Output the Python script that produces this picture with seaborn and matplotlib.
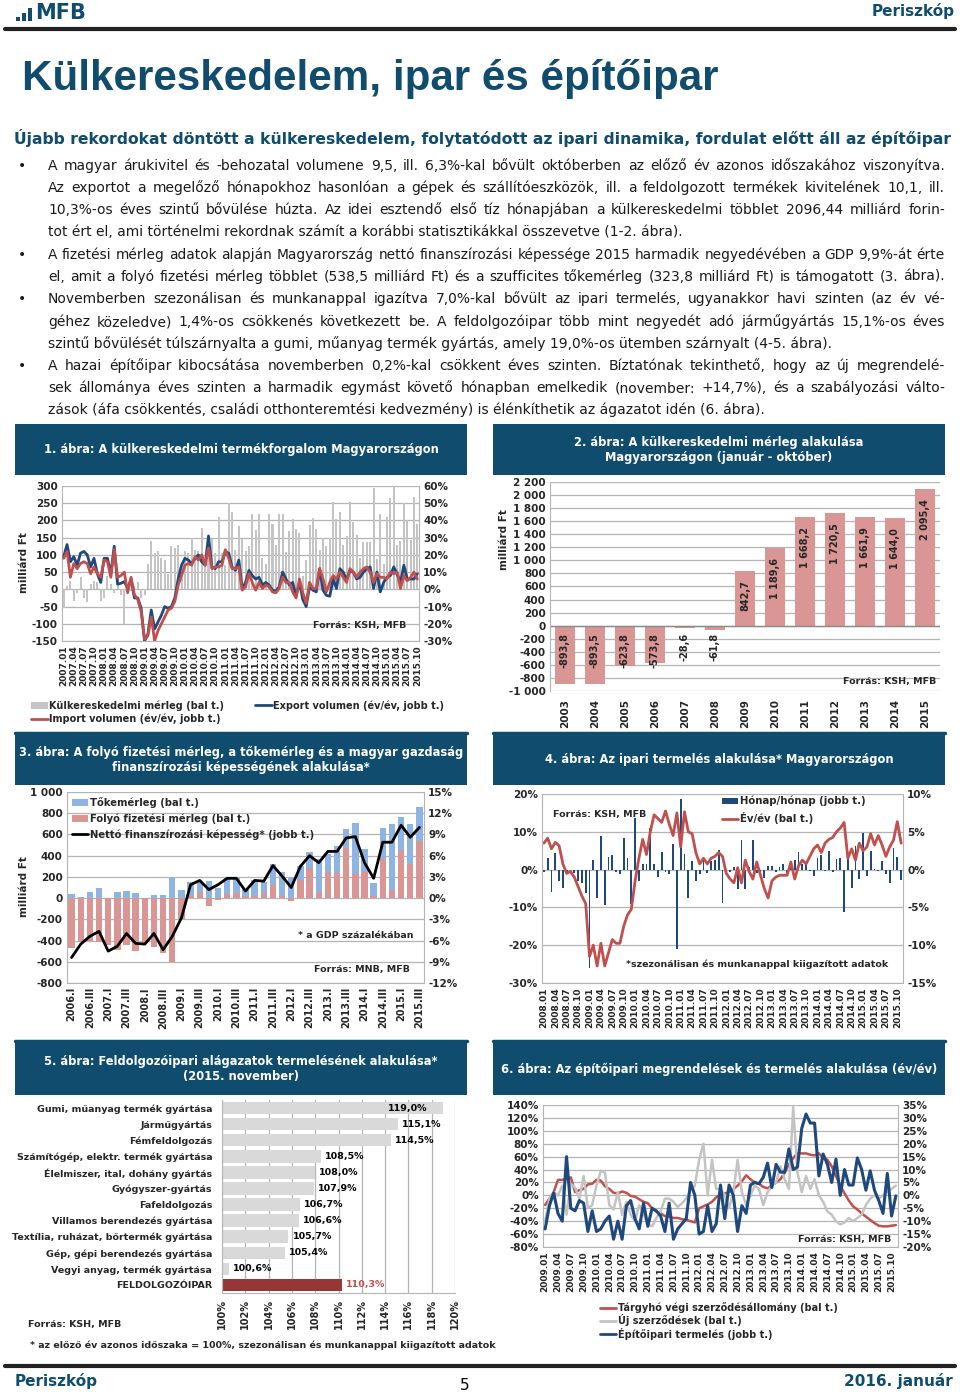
import numpy as np
import pandas as pd
import matplotlib
matplotlib.use('Agg')
import matplotlib.pyplot as plt
import seaborn as sns
from matplotlib.patches import Rectangle, Patch
from matplotlib.lines import Line2D
from matplotlib.ticker import FuncFormatter

# ---------------- data ----------------
# 1. ábra - havi adatok 2007.01-2015.10
months1 = pd.date_range('2007-01-01', periods=106, freq='MS').strftime('%Y.%m').tolist()
trade_balance = [-55, 10, 25, -35, -10, 35, -25, -38, 15, 25,
                 20, -33, -25, 40, 15, -10, 30, -15, -100, 10,
                 -5, 10, 22, -25, -15,
                 75, 140, 105, 110, 90, 85, 45, 125, 120, 128,
                 50, 112, 105, 148, 115, 110, 178, 85, 140, 145,
                 105, 210, 105, 70, 250, 225, 115, 185, 145, 110,
                 125, 218, 172, 220, 90, 75, 220, 190, 130, 220,
                 220, 108, 168, 205, 175, 165, 40, 85, 188, 208,
                 175, 115, 148, 125, 148, 255, 205, 225, 130, 155,
                 255, 195, 158, 90, 138, 137, 137, 293, 88, 218,
                 75, 210, 265, 300, 130, 140, 250, 200, 142, 268, 190]
export_yoy = [19, 26, 16, 19, 14, 21, 22, 20, 13, 18,
              9, 4, 18, 18, 9, 25, 3, 3.5, 4.5, 0.5,
              6, -5, -5, -11, -30, -26, -12, -23, -19, -15,
              -10, -11, -10, -5, 6, 14, 18, 17, 15, 18,
              20, 16, 14, 31, 13, 12, 16, 16, 22, 21,
              13, 11, 17, 0.5, 4, 11, 8, 6, 7, 2.5,
              4, 2.5, -0.5, -1, 1.5, 10, 6, 2.5, 4, -4,
              4, -6, -10, 1.5, -0.5, -1.5, 12, -0.5, -3.5, -4,
              6, 0.5, 12, 10, 5.5, 11, 10, 6, 7, 10,
              12, 13, 0.5, 10, -1.5, 4, 7, 8, 13, 9,
              4, 14, 6, 6, 6, 9]
import_yoy = [18, 22, 7, 15, 12, 15, 16, 15, 9, 13,
              9, 7, 17, 16, 7, 23, 7, 8, 10, -2,
              7, -3, -6, -13, -29, -27, -16, -30, -24, -20,
              -16, -12, -11, -7, 2.5, 8, 14, 15, 14, 19,
              17, 20, 14, 24, 12, 13, 13, 14, 23, 18,
              12, 12, 13, -0.5, 1.5, 9, 4, -0.5, 4, 0.5,
              2.5, 1.5, -1.5, -2, 0.5, 7, 4, 4, -1.5, -5,
              6, -2, -8, 4, 0.5, 0.5, 12, 6, -1.5, 4,
              8, 6, 10, 7, 4, 12, 10, 7, 10, 12,
              13, 10, 4, 9, 7, 7, 6, 10, 9, 10,
              0.5, 8, 5, 7, 10, 6]

# 2. ábra - január-október összesen
years2 = ['2003', '2004', '2005', '2006', '2007', '2008', '2009',
          '2010', '2011', '2012', '2013', '2014', '2015']
balance2 = [-893.8, -893.5, -623.8, -573.8, -28.6, -61.8, 842.7,
            1189.6, 1668.2, 1720.5, 1661.9, 1644.0, 2095.4]

# 3. ábra - negyedéves adatok 2006.I-2015.III
quarters3 = [f'{y}.{q}' for y in range(2006, 2016) for q in ['I', 'II', 'III', 'IV']][:39]
current_account = [-470, -410, -400, -410, -440, -490, -440, -500, -420, -460,
                   -520, -600, -200, 20, 55, -75, -20, 40, 50, 20,
                   20, 50, 120, 20, -25, 175, 285, 60, 250, 240,
                   475, 225, 245, 20, 365, 75, 455, 320, 538.5]
capital_account = [38, 10, 57, 94, 5, 55, 68, 48, 5, 25,
                   30, 200, 80, 130, 95, 160, 100, 150, 140, 70,
                   150, 100, 200, 225, 190, 130, 150, 310, 170, 250,
                   180, 485, 215, 125, 295, 620, 310, 380, 323.8]
net_lending = [-8.4, -6.5, -5.4, -4.7, -7.5, -6.8, -5.0, -6.4, -6.5, -5.0,
               -7.3, -5.4, -2.8, 1.9, 2.5, 1.2, 1.9, 2.8, 2.8, 1.0,
               2.5, 2.4, 4.6, 3.1, 1.5, 4.5, 6.0, 5.0, 6.6, 6.6,
               8.5, 8.7, 5.0, 2.8, 7.9, 7.9, 10.3, 8.6, 10.0]

# 4. ábra - havi adatok 2008.01-2015.11
months4 = pd.date_range('2008-01-01', periods=95, freq='MS').strftime('%Y.%m').tolist()
ip_mom = [-0.3, 1.5, -3, 2.2, -1.5, -2.4, -0.5, -0.3, -0.5, -1.5,
          -1.8, -3.1, -13, 1.3, -3.7, 4.4, -4.7, 1.7, 1.9, -0.3,
          -0.6, 4.2, 1.5, -4.6, 6.8, -1.5, 0.8, 0.8, 5.5, 0.8,
          -1, 2.3, -0.3, -0.6, 3.4, -10.5, 9.4, 2, -3.8, 1.1,
          -1.5, -0.6, 1.2, -0.4, 1.2, 1.3, 2.6, -4.4, -0.5, -0.3,
          0.3, -2.6, 3.9, -2.6, 0.3, 3.9, -0.5, -1, -1.1, 0.5,
          0.5, -0.3, 0.3, 0.8, -0.5, 0.8, 1.3, 2.3, 0.8, 0.7,
          -0.2, -0.9, 1.5, 1.9, -0.2, 2.5, -0.3, 1.4, 1.6, -5.6,
          1.7, -2.4, 3.1, -1.2, 4.8, -0.9, 2.5, 0.1, -0.2, 1.1,
          -0.6, -1.8, 2.9, 1.7, -1.4]
ip_yoy = [7, 8.3, 5.5, 7.2, 6.3, 1.5, -1, -0.5, -2, -4.5,
          -7, -9, -23, -20, -25.5, -19.5, -25.5, -22, -18.5, -19.5,
          -19.5, -15, -12, -10.5, -3, 3, 8, 4, 10, 14.5,
          13.5, 12.5, 15.5, 12, 9, 15, 6, 15.3, 10, 9.5,
          4.5, 1.5, 3, 1.5, 3, 3.5, 4.5, 3.5, -1, -2.5,
          -3.5, 0.5, -3.5, 2.5, -0.5, -2.5, 2, -1.5, -5, -7.5,
          -3, -2, -1.5, -1.5, -1.5, 2, -2.5, 1, 2.5, 1.5,
          3.5, 5.5, 6.5, 4.5, 7, 8, 8.5, 10, 11, 12.5,
          3, 5.5, 2.5, 7, 5, 6, 9.5, 6.5, 9, 6.5,
          3.5, 6, 7.8, 12.7, 7.0]

# 5. ábra - 2015. november, előző év azonos időszaka = 100%
sectors5 = ['Gumi, műanyag termék gyártása', 'Járműgyártás', 'Fémfeldolgozás',
            'Számítógép, elektr. termék gyártása', 'Élelmiszer, ital, dohány gyártás',
            'Gyógyszer-gyártás', 'Fafeldolgozás', 'Villamos berendezés gyártása',
            'Textília, ruházat, bőrtermék gyártása', 'Gép, gépi berendezés gyártása',
            'Vegyi anyag, termék gyártása', 'FELDOLGOZÓIPAR']
index5 = [119.0, 115.1, 114.5, 108.5, 108.0, 107.9, 106.7, 106.6, 105.7, 105.4, 100.6, 110.3]

# 6. ábra - havi adatok 2009.01-2015.11
months6 = pd.date_range('2009-01-01', periods=83, freq='MS').strftime('%Y.%m').tolist()
contracts_stock = [-15, -5, 5, 24, 24, 25, 28, 5, 8, 10,
                   17, 18, 24, 23, 14, 10, 4, 3, 6, 4,
                   -1, -2, -6, -10, -12, -20, -25, -28, -32, -33,
                   -35, -35, -37, -38, -40, -42, -20, -17, -14, -10,
                   -3, 2, 3, 5, 10, 15, 22, 31, 25, 20,
                   18, 13, 11, 15, 20, 25, 35, 48, 58, 65,
                   65, 65, 63, 62, 65, 58, 55, 45, 30, 15,
                   3, -8, -17, -22, -28, -33, -38, -43, -47, -48,
                   -48, -47, -46]
contracts_new = [-40, -5, 5, 0, 15, -30, 18, 12, -5, 30,
                 -20, -15, 15, 38, 35, -15, -22, 5, -30, -10,
                 -30, -40, -15, -28, -45, -48, -35, -25, -5, -5,
                 -10, -18, -12, -5, 8, 15, 55, 80, 0, 55,
                 10, 10, 0, -20, 5, 55, 5, -15, 0, 15,
                 10, -15, 5, 15, 20, 45, 25, 10, 137, 35,
                 5, 30, 10, 25, 0, -10, -25, -30, -40, -45,
                 -42, -35, -40, -35, -30, -15, -5, 0, -5, 0,
                 5, 10, 15]
construction_output = [-13, -4, 1, -7, -10, 15, -5, -6, -2, -3,
                       -14, -6, -14, -13, -10, -8, -17, -10, -17, -4,
                       -2, -9, -13, -3, -12, -5, -6, -8, -14, -3,
                       -17, -13, -11, -9, 5, 0, -15, -14, -4, -14,
                       -11, 4, -9, 4, 0, -14, -4, -7, 4, 5,
                       4.5, 7, 12.5, 3, 12, 9, 9, 18, 10, 11,
                       26, 31.5, 28, 28, 7.5, 16, 12, 5, 14, 0,
                       10, 4, 4, 14.5, 10, 2, 9.5, 2, -2, -7,
                       8.5, -8, -0.2]

# ---------------- style ----------------
W, H = 960, 1394
TEAL = '#0f4c6d'
GRID = '#b4b4b4'
NAVY = '#1f497d'
RED = '#c0504d'
PINK = '#d99694'
BLUE = '#8eb4e3'
BARGRAY = '#c4c4c4'
DARKRED = '#953735'

sns.set_style('white')
plt.rcParams['font.family'] = ['DejaVu Sans']
plt.rcParams['font.weight'] = 'bold'
plt.rcParams['axes.labelweight'] = 'bold'
plt.rcParams['axes.unicode_minus'] = False
plt.rcParams['patch.force_edgecolor'] = False

pct = FuncFormatter(lambda v, p: f'{v:.0f}%')
thou = FuncFormatter(lambda v, p: f'{v:,.0f}'.replace(',', ' '))

fig = plt.figure(figsize=(9.6, 13.94), dpi=100)
renderer = fig.canvas.get_renderer()


def rect(x0, y0, x1, y1):
    return [x0 / W, 1 - y1 / H, (x1 - x0) / W, (y1 - y0) / H]


def ftext(x, y, s, **kw):
    return fig.text(x / W, 1 - y / H, s, **kw)


def hline(x0, x1, y, lw, color):
    fig.add_artist(Line2D([x0 / W, x1 / W], [1 - y / H, 1 - y / H],
                          transform=fig.transFigure, lw=lw, color=color))


def box(x0, y0, x1, y1, title):
    fig.add_artist(Rectangle((x0 / W, 1 - y1 / H), (x1 - x0) / W, (y1 - y0) / H,
                             transform=fig.transFigure, facecolor=TEAL, edgecolor='none'))
    ftext((x0 + x1) / 2, (y0 + y1) / 2, title, ha='center', va='center',
          color='white', fontsize=8.3, fontweight='bold', linespacing=1.2)


def clean(ax, sides=('left', 'bottom')):
    for s in ax.spines:
        ax.spines[s].set_visible(s in sides)
        ax.spines[s].set_color(GRID)
    ax.set_xlabel('')
    ax.set_ylabel('')
    ax.tick_params(axis='both', length=0, pad=3, labelsize=7.5)


def px_width(t):
    return t.get_window_extent(renderer).width


def fit(t, target):
    t.set_fontsize(t.get_fontsize() * target / px_width(t))


# ---------------- page header ----------------
for i, h in enumerate([4, 8, 13]):
    fig.add_artist(Rectangle(((16 + 6 * i) / W, 1 - 21 / H), 4 / W, h / H,
                             transform=fig.transFigure, facecolor=TEAL, edgecolor='none'))
ftext(35, 13, 'MFB', fontsize=15, color=TEAL, va='center', fontweight='bold')
ftext(955, 11, 'Periszkóp', fontsize=11, color=TEAL, ha='right', va='center', fontweight='bold')
hline(5, 955, 29, 3, '#222222')

t = ftext(22, 79, 'Külkereskedelem, ipar és építőipar', family=['Liberation Sans', 'DejaVu Sans'],
          fontsize=30, fontweight='bold', color=TEAL, va='center')
fit(t, 696)
t = ftext(14, 138, 'Újabb rekordokat döntött a külkereskedelem, folytatódott az ipari dinamika, '
          'fordulat előtt áll az építőipar', fontsize=11, fontweight='bold', color=TEAL, va='center')
fit(t, 931)

body = [
    (166, True, True, 'A magyar árukivitel és -behozatal volumene 9,5, ill. 6,3%-kal bővült októberben az előző év azonos időszakához viszonyítva.'),
    (188, False, True, 'Az exportot a megelőző hónapokhoz hasonlóan a gépek és szállítóeszközök, ill. a feldolgozott termékek kivitelének 10,1, ill.'),
    (210, False, True, '10,3%-os éves szintű bővülése húzta. Az idei esztendő első tíz hónapjában a külkereskedelmi többlet 2096,44 milliárd forin-'),
    (232, False, False, 'tot ért el, ami történelmi rekordnak számít a korábbi statisztikákkal összevetve (1-2. ábra).'),
    (255, True, True, 'A fizetési mérleg adatok alapján Magyarország nettó finanszírozási képessége 2015 harmadik negyedévében a GDP 9,9%-át érte'),
    (277, False, True, 'el, amit a folyó fizetési mérleg többlet (538,5 milliárd Ft) és a szufficites tőkemérleg (323,8 milliárd Ft) is támogatott (3. ábra).'),
    (299, True, True, 'Novemberben szezonálisan és munkanappal igazítva 7,0%-kal bővült az ipari termelés, ugyanakkor havi szinten (az év vé-'),
    (322, False, True, 'géhez közeledve) 1,4%-os csökkenés következett be. A feldolgozóipar több mint negyedét adó járműgyártás 15,1%-os éves'),
    (344, False, False, 'szintű bővülését túlszárnyalta a gumi, műanyag termék gyártás, amely 19,0%-os ütemben szárnyalt (4-5. ábra).'),
    (366, True, True, 'A hazai építőipar kibocsátása novemberben 0,2%-kal csökkent éves szinten. Bíztatónak tekinthető, hogy az új megrendelé-'),
    (388, False, True, 'sek állománya éves szinten a harmadik egymást követő hónapban emelkedik (november: +14,7%), és a szabályozási válto-'),
    (410, False, False, 'zások (áfa csökkentés, családi otthonteremtési kedvezmény) is élénkíthetik az ágazatot idén (6. ábra).'),
]
BODY_SIZE = 10
for y, bullet, justify, line in body:
    kw = dict(fontsize=BODY_SIZE, fontweight='normal', color='#1a1a1a', va='center')
    if bullet:
        ftext(18, y, '•', **kw)
    t = ftext(48, y, line, **kw)
    w = px_width(t)
    size = BODY_SIZE if w <= 897 else BODY_SIZE * 897 / w
    t.set_fontsize(size)
    if justify:
        t.remove()
        kw['fontsize'] = size
        words = [ftext(48, y, wd, **kw) for wd in line.split(' ')]
        widths = [px_width(o) for o in words]
        gap = (897 - sum(widths)) / (len(words) - 1)
        x = 48
        for o, wd in zip(words, widths):
            o.set_x(x / W)
            x += wd + gap

# ---------------- 1. ábra ----------------
box(15, 424, 467, 475, '1. ábra: A külkereskedelmi termékforgalom Magyarországon')
ax1 = fig.add_axes(rect(62, 486, 419, 641))
x1 = np.arange(len(months1))
sns.barplot(x=x1, y=trade_balance, color=BARGRAY, saturation=1, width=0.6, linewidth=0,
            errorbar=None, ax=ax1)
ax1b = ax1.twinx()
sns.lineplot(x=x1, y=export_yoy, color=NAVY, lw=2, errorbar=None, ax=ax1b)
sns.lineplot(x=x1, y=import_yoy, color=RED, lw=2, errorbar=None, ax=ax1b)
clean(ax1)
clean(ax1b, ('right',))
ax1.set_ylim(-150, 300)
ax1.set_yticks(np.arange(-150, 301, 50))
ax1b.set_ylim(-30, 60)
ax1b.set_yticks(np.arange(-30, 61, 10))
ax1b.yaxis.set_major_formatter(pct)
ax1.yaxis.grid(True, color=GRID, lw=0.9)
ax1.set_axisbelow(True)
ax1.set_xticks(x1[::3])
ax1.set_xticklabels(months1[::3], rotation=90, fontsize=6.5)
ax1.set_xlim(-0.5, len(x1) - 0.5)
ax1.text(0.965, 0.1, 'Forrás: KSH, MFB', transform=ax1.transAxes, ha='right', va='center', fontsize=6.8)
ftext(24, 563, 'milliárd Ft', rotation=90, ha='center', va='center', fontsize=7.5)
fig.legend([Patch(facecolor=BARGRAY), Line2D([], [], color=RED, lw=2), Line2D([], [], color=NAVY, lw=2)],
           ['Külkereskedelmi mérleg (bal t.)', 'Import volumen (év/év, jobb t.)', 'Export volumen (év/év, jobb t.)'],
           loc='upper left', bbox_to_anchor=(31 / W, 1 - 700 / H), ncol=2, frameon=False, fontsize=7,
           handlelength=1.7, handletextpad=0.15, columnspacing=3.2, labelspacing=0.3,
           borderpad=0, borderaxespad=0)
hline(15, 467, 733, 2.5, TEAL)

# ---------------- 2. ábra ----------------
box(493, 424, 945, 475, '2. ábra: A külkereskedelmi mérleg alakulása\nMagyarországon (január - október)')
ax2 = fig.add_axes(rect(550, 482, 940, 691))
sns.barplot(x=years2, y=balance2, color=PINK, saturation=1, width=0.65, linewidth=0,
            errorbar=None, ax=ax2)
clean(ax2, ('left',))
ax2.set_ylim(-1000, 2200)
ax2.set_yticks(np.arange(-1000, 2201, 200))
ax2.yaxis.set_major_formatter(thou)
ax2.yaxis.grid(True, color=GRID, lw=0.9)
ax2.set_axisbelow(True)
ax2.axhline(0, color='#8a8a8a', lw=1)
ax2.tick_params(axis='x', rotation=90, pad=6, labelsize=7.5)
for i, v in enumerate(balance2):
    lab = f'{v:_.1f}'.replace('_', ' ').replace('.', ',')
    ax2.text(i, v - 150 if v > 0 else -110, lab, rotation=90, ha='center', va='top', fontsize=7)
ax2.text(0.99, 0.045, 'Forrás: KSH, MFB', transform=ax2.transAxes, ha='right', va='center', fontsize=6.8)
ftext(504, 540, 'milliárd Ft', rotation=90, ha='center', va='center', fontsize=7.5)
hline(493, 945, 733, 2.5, TEAL)

# ---------------- 3. ábra ----------------
box(15, 735, 467, 785, '3. ábra: A folyó fizetési mérleg, a tőkemérleg és a magyar gazdaság\n'
    'finanszírozási képességének alakulása*')
ax3 = fig.add_axes(rect(67, 792, 424, 983))
x3 = np.arange(len(quarters3))
stack_top = np.maximum(current_account, 0) + np.array(capital_account)
sns.barplot(x=x3, y=stack_top, color=BLUE, saturation=1, width=0.7, linewidth=0, errorbar=None, ax=ax3)
sns.barplot(x=x3, y=current_account, color=PINK, saturation=1, width=0.7, linewidth=0, errorbar=None, ax=ax3)
ax3b = ax3.twinx()
sns.lineplot(x=x3, y=net_lending, color='black', lw=2, errorbar=None, ax=ax3b)
clean(ax3)
clean(ax3b, ('right',))
ax3.set_ylim(-800, 1000)
ax3.set_yticks(np.arange(-800, 1001, 200))
ax3.yaxis.set_major_formatter(thou)
ax3b.set_ylim(-12, 15)
ax3b.set_yticks(np.arange(-12, 16, 3))
ax3b.yaxis.set_major_formatter(pct)
ax3.yaxis.grid(True, color=GRID, lw=0.9)
ax3.set_axisbelow(True)
ax3.set_xticks(x3[::2])
ax3.set_xticklabels(quarters3[::2], rotation=90, fontsize=7)
ax3.set_xlim(-0.5, len(x3) - 0.5)
ax3b.text(0.97, 0.25, '* a GDP százalékában', transform=ax3b.transAxes, ha='right', va='center', fontsize=6.8)
ax3b.text(0.96, 0.07, 'Forrás: MNB, MFB', transform=ax3b.transAxes, ha='right', va='center', fontsize=6.8)
ax3b.legend([Patch(facecolor=BLUE), Patch(facecolor=PINK), Line2D([], [], color='black', lw=2)],
            ['Tőkemérleg (bal t.)', 'Folyó fizetési mérleg (bal t.)', 'Nettó finanszírozási képesség* (jobb t.)'],
            loc='upper left', bbox_to_anchor=(72 / W, 1 - 797 / H), bbox_transform=fig.transFigure,
            frameon=False, fontsize=7.2, handlelength=1.6, handletextpad=0.2, labelspacing=0.55,
            borderpad=0, borderaxespad=0)
ftext(24, 887, 'milliárd Ft', rotation=90, ha='center', va='center', fontsize=7.5)
hline(15, 467, 1041, 2.5, TEAL)

# ---------------- 4. ábra ----------------
box(493, 735, 945, 785, '4. ábra: Az ipari termelés alakulása* Magyarországon')
ax4 = fig.add_axes(rect(542, 794, 903, 983))
x4 = np.arange(len(months4))
ax4b = ax4.twinx()
sns.barplot(x=x4, y=ip_mom, color=NAVY, saturation=1, width=0.5, linewidth=0, errorbar=None, ax=ax4b)
sns.lineplot(x=x4, y=ip_yoy, color=RED, lw=2, errorbar=None, ax=ax4)
ax4.set_zorder(ax4b.get_zorder() + 1)
ax4.patch.set_visible(False)
clean(ax4)
clean(ax4b, ('right',))
ax4.set_ylim(-30, 20)
ax4.set_yticks(np.arange(-30, 21, 10))
ax4.yaxis.set_major_formatter(pct)
ax4b.set_ylim(-15, 10)
ax4b.set_yticks(np.arange(-15, 11, 5))
ax4b.yaxis.set_major_formatter(pct)
ax4b.yaxis.grid(True, color=GRID, lw=0.9)
ax4b.set_axisbelow(True)
ax4.set_xticks(x4[:-1:3])
ax4.set_xticklabels(months4[:-1:3], rotation=90, fontsize=6.5)
ax4.set_xlim(-0.5, len(x4) - 0.5)
ax4.text(0.03, 0.89, 'Forrás: KSH, MFB', transform=ax4.transAxes, ha='left', va='center', fontsize=6.8)
ax4.text(0.96, 0.1, '*szezonálisan és munkanappal kiigazított adatok', transform=ax4.transAxes,
         ha='right', va='center', fontsize=6.8)
ax4.legend([Patch(facecolor=NAVY), Line2D([], [], color=RED, lw=2)],
           ['Hónap/hónap (jobb t.)', 'Év/év (bal t.)'],
           loc='upper left', bbox_to_anchor=(722 / W, 1 - 796 / H), bbox_transform=fig.transFigure,
           frameon=False, fontsize=7.3, handlelength=1.6, handleheight=0.5, handletextpad=0.2,
           labelspacing=0.55, borderpad=0, borderaxespad=0)
hline(493, 945, 1041, 2.5, TEAL)

# ---------------- 5. ábra ----------------
box(15, 1043, 467, 1095, '5. ábra: Feldolgozóipari alágazatok termelésének alakulása*\n(2015. november)')
ax5 = fig.add_axes(rect(222, 1100, 455, 1293))
colors5 = [('#d9d9d9' if s != 'FELDOLGOZÓIPAR' else DARKRED) for s in sectors5]
sns.barplot(x=index5, y=sectors5, hue=sectors5, palette=dict(zip(sectors5, colors5)), legend=False,
            orient='h', saturation=1, width=0.78, linewidth=0, errorbar=None, ax=ax5)
clean(ax5, ('left', 'bottom'))
ax5.set_xlim(100, 120)
ax5.set_xticks(np.arange(100, 121, 2))
ax5.xaxis.set_major_formatter(pct)
ax5.tick_params(axis='x', rotation=90, labelsize=7, pad=4)
ax5.tick_params(axis='y', labelsize=6.8, pad=7)
ax5.xaxis.grid(True, color=GRID, lw=0.9)
ax5.set_axisbelow(True)
for i, v in enumerate(index5):
    lab = f'{v:.1f}%'.replace('.', ',')
    col = RED if sectors5[i] == 'FELDOLGOZÓIPAR' else 'black'
    if v > 118:
        ax5.text(v - 1.4, i, lab, ha='right', va='center', fontsize=6.8, color=col)
    else:
        ax5.text(v + 0.35, i, lab, ha='left', va='center', fontsize=6.8, color=col)
ftext(28, 1325, 'Forrás: KSH, MFB', va='center', fontsize=6.8)
ftext(30, 1345, '* az előző év azonos időszaka = 100%, szezonálisan és munkanappal kiigazított adatok',
      va='center', fontsize=6.8)

# ---------------- 6. ábra ----------------
box(493, 1043, 945, 1095, '6. ábra: Az építőipari megrendelések és termelés alakulása (év/év)')
ax6 = fig.add_axes(rect(543, 1105, 898, 1247))
x6 = np.arange(len(months6))
sns.lineplot(x=x6, y=contracts_stock, color=RED, lw=1.8, errorbar=None, ax=ax6)
sns.lineplot(x=x6, y=contracts_new, color='#c3c3c3', lw=1.8, errorbar=None, ax=ax6)
ax6b = ax6.twinx()
sns.lineplot(x=x6, y=construction_output, color=NAVY, lw=2.2, errorbar=None, ax=ax6b)
clean(ax6)
clean(ax6b, ('right',))
ax6.set_ylim(-80, 140)
ax6.set_yticks(np.arange(-80, 141, 20))
ax6.yaxis.set_major_formatter(pct)
ax6b.set_ylim(-20, 35)
ax6b.set_yticks(np.arange(-20, 36, 5))
ax6b.yaxis.set_major_formatter(pct)
ax6.yaxis.grid(True, color=GRID, lw=0.9)
ax6.set_axisbelow(True)
ax6.set_xticks(x6[:-1:3])
ax6.set_xticklabels(months6[:-1:3], rotation=90, fontsize=6.5)
ax6.set_xlim(-0.5, len(x6) - 0.5)
ax6b.text(0.98, 0.055, 'Forrás: KSH, MFB', transform=ax6b.transAxes, ha='right', va='center', fontsize=6.8)
fig.legend([Line2D([], [], color=RED, lw=2), Line2D([], [], color='#c3c3c3', lw=2),
            Line2D([], [], color=NAVY, lw=2)],
           ['Tárgyhó végi szerződésállomány (bal t.)', 'Új szerződések (bal t.)', 'Építőipari termelés (jobb t.)'],
           loc='upper left', bbox_to_anchor=(600 / W, 1 - 1302 / H), frameon=False, fontsize=7,
           handlelength=1.6, handletextpad=0.2, labelspacing=0.15, borderpad=0, borderaxespad=0)

# ---------------- page footer ----------------
hline(5, 955, 1366, 3, '#222222')
ftext(15, 1381, 'Periszkóp', fontsize=11, color=TEAL, va='center', fontweight='bold')
ftext(465, 1386, '5', fontsize=11, color='black', ha='center', va='center', fontweight='normal')
ftext(953, 1381, '2016. január', fontsize=11, color=TEAL, ha='right', va='center', fontweight='bold')

fig.savefig('out.png', dpi=100)
